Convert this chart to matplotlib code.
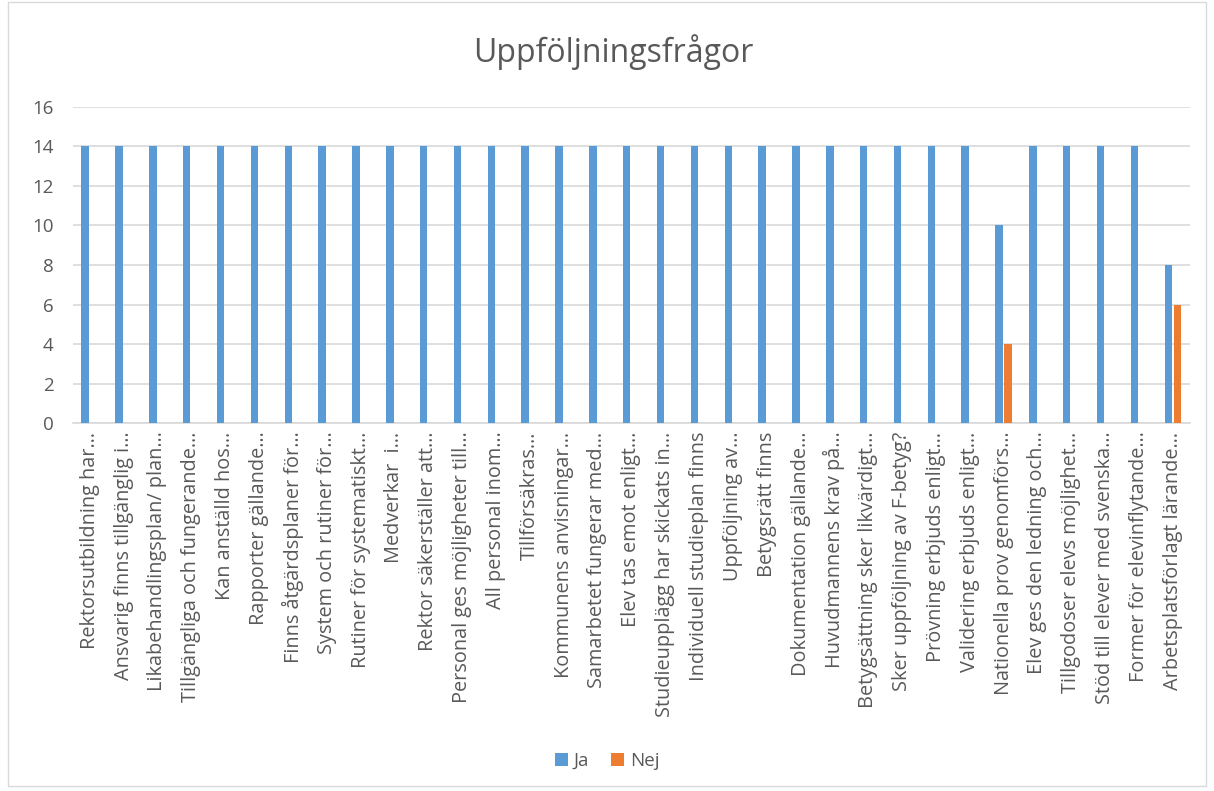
import matplotlib
matplotlib.use("Agg")
import matplotlib.pyplot as plt
import numpy as np
from matplotlib.patches import Rectangle

# Data
kategorier = [
    "Rektorsutbildning har…",
    "Ansvarig finns tillgänglig i…",
    "Likabehandlingsplan/ plan…",
    "Tillgängliga och fungerande…",
    "Kan anställd hos…",
    "Rapporter gällande…",
    "Finns åtgärdsplaner för…",
    "System och rutiner för…",
    "Rutiner för systematiskt…",
    "Medverkar  i…",
    "Rektor säkerställer att…",
    "Personal ges möjligheter till…",
    "All personal inom…",
    "Tillförsäkras…",
    "Kommunens anvisningar…",
    "Samarbetet fungerar med…",
    "Elev tas emot enligt…",
    "Studieupplägg har skickats in…",
    "Individuell studieplan finns",
    "Uppföljning av…",
    "Betygsrätt finns",
    "Dokumentation gällande…",
    "Huvudmannens krav på…",
    "Betygsättning sker likvärdigt…",
    "Sker uppföljning av F-betyg?",
    "Prövning erbjuds enligt…",
    "Validering erbjuds enligt…",
    "Nationella prov genomförs…",
    "Elev ges den ledning och…",
    "Tillgodoser elevs möjlighet…",
    "Stöd till elever med svenska…",
    "Former för elevinflytande…",
    "Arbetsplatsförlagt lärande…",
]
ja = [14] * 27 + [10] + [14] * 4 + [8]
nej = [0] * 27 + [4] + [0] * 4 + [6]

BLA = "#5B9BD5"
ORANGE = "#ED7D31"
GRA_TEXT = "#595959"
FONT = ["Open Sans", "DejaVu Sans"]

plt.rcParams["font.family"] = FONT

fig = plt.figure(figsize=(12.14, 7.91), dpi=100)
ax = fig.add_axes([0.060, 0.465, 0.920, 0.400])

x = np.arange(len(kategorier))
bredd = 0.22
ax.bar(x - 0.135, ja, bredd, color=BLA, label="Ja", zorder=3)
ax.bar(x + 0.135, nej, bredd, color=ORANGE, label="Nej", zorder=3)

ax.set_xlim(-0.5, len(kategorier) - 0.5)
ax.set_ylim(0, 16)
ax.set_yticks(range(0, 17, 2))
ax.yaxis.grid(True, color="#D9D9D9", linewidth=1.2, zorder=0)
ax.set_axisbelow(True)

for s in ["top", "right", "left"]:
    ax.spines[s].set_visible(False)
ax.spines["bottom"].set_color("#D9D9D9")
ax.spines["bottom"].set_linewidth(1.2)

ax.tick_params(axis="y", length=0, labelsize=13.5, labelcolor=GRA_TEXT, pad=14)
ax.tick_params(axis="x", length=0, pad=6)
ax.set_xticks(x)
ax.set_xticklabels(kategorier, rotation=90, ha="center", va="top",
                   fontsize=14.3, color=GRA_TEXT)

fig.text(0.505, 0.934, "Uppföljningsfrågor", ha="center", va="center",
         fontsize=23, color=GRA_TEXT)

fig.legend(loc="center", bbox_to_anchor=(0.5, 0.038), ncol=2, frameon=False,
           fontsize=13.5, labelcolor=GRA_TEXT, handlelength=0.7,
           handleheight=0.7, handletextpad=0.3, columnspacing=1.2)

# ram runt diagrammet
fig.patches.append(Rectangle((0.007, 0.006), 0.986, 0.992, transform=fig.transFigure,
                             fill=False, edgecolor="#D9D9D9", linewidth=1))

fig.savefig("out.png", dpi=100, facecolor="white")
